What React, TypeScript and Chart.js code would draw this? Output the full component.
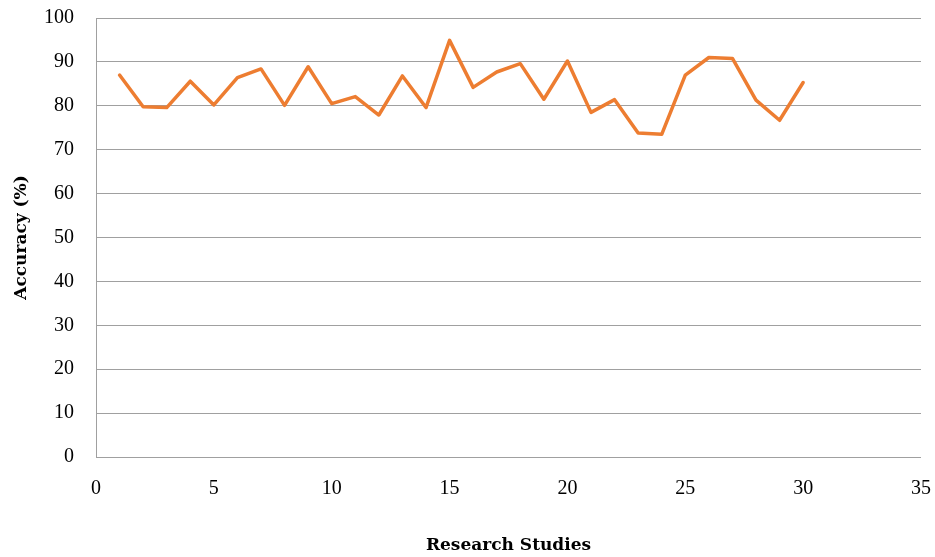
import React, { useEffect, useRef } from "react";
import { Chart, registerables } from "chart.js";

Chart.register(...registerables);

const studies = [1, 2, 3, 4, 5, 6, 7, 8, 9, 10, 11, 12, 13, 14, 15, 16, 17, 18, 19, 20, 21, 22, 23, 24, 25, 26, 27, 28, 29, 30];
const accuracy = [87.0, 79.8, 79.6, 85.6, 80.2, 86.4, 88.4, 80.1, 88.9, 80.5, 82.1, 77.9, 86.8, 79.6, 94.9, 84.2, 87.7, 89.6, 81.5, 90.2, 78.5, 81.4, 73.8, 73.5, 87.0, 91.0, 90.8, 81.3, 76.7, 85.3];

const xTitle = "Research Studies";
const yTitle = "Accuracy (%)";

export default function App() {
  const ref = useRef<HTMLCanvasElement>(null);
  useEffect(() => {
    if (!ref.current) return;
    const grey = "#a0a0a0";
    const tickFont = { family: "Liberation Serif", size: 20 };
    const titleFont = { family: "DejaVu Serif", size: 17, weight: "bold" as const };
    const chart = new Chart(ref.current, {
      type: "line",
      data: {
        datasets: [
          {
            data: studies.map((s, i) => ({ x: s, y: accuracy[i] })),
            borderColor: "#ED7D31",
            backgroundColor: "#ED7D31",
            borderWidth: 3.5,
            pointRadius: 0,
            tension: 0,
            fill: false,
            borderJoinStyle: "round",
            borderCapStyle: "round",
          },
        ],
      },
      options: {
        animation: false,
        responsive: false,
        layout: { padding: { top: 18, right: 14, left: 0, bottom: 0 } },
        plugins: { legend: { display: false }, tooltip: { enabled: false } },
        scales: {
          x: {
            type: "linear",
            min: 0,
            max: 35,
            ticks: {
              stepSize: 5,
              color: "#000",
              padding: 20,
              font: tickFont,
            },
            grid: { display: false, drawTicks: false },
            border: { display: false },
            title: {
              display: true,
              text: xTitle,
              color: "#000",
              font: titleFont,
              padding: { top: 0, bottom: 1 },
            },
            afterFit: (s: any) => {
              s.height = 100;
              s.paddingLeft = 0;
              s.paddingRight = 0;
            },
          },
          y: {
            min: 0,
            max: 100,
            ticks: {
              stepSize: 10,
              color: "#000",
              padding: 22,
              font: tickFont,
            },
            grid: { color: grey, lineWidth: 1, drawTicks: false },
            border: { display: true, color: grey, width: 1 },
            title: {
              display: true,
              text: yTitle,
              color: "#000",
              font: titleFont,
              padding: { top: 11.5, bottom: 0 },
            },
            afterFit: (s: any) => {
              s.width = 96;
              s.paddingTop = 0;
              s.paddingBottom = 0;
            },
          },
        },
      },
    });
    return () => chart.destroy();
  }, []);
  return (
    <div style={{ position: "fixed", left: 0, top: 0, width: 935, height: 557, background: "#fff" }}>
      <canvas ref={ref} width={935} height={557} style={{ width: 935, height: 557 }} />
    </div>
  );
}
